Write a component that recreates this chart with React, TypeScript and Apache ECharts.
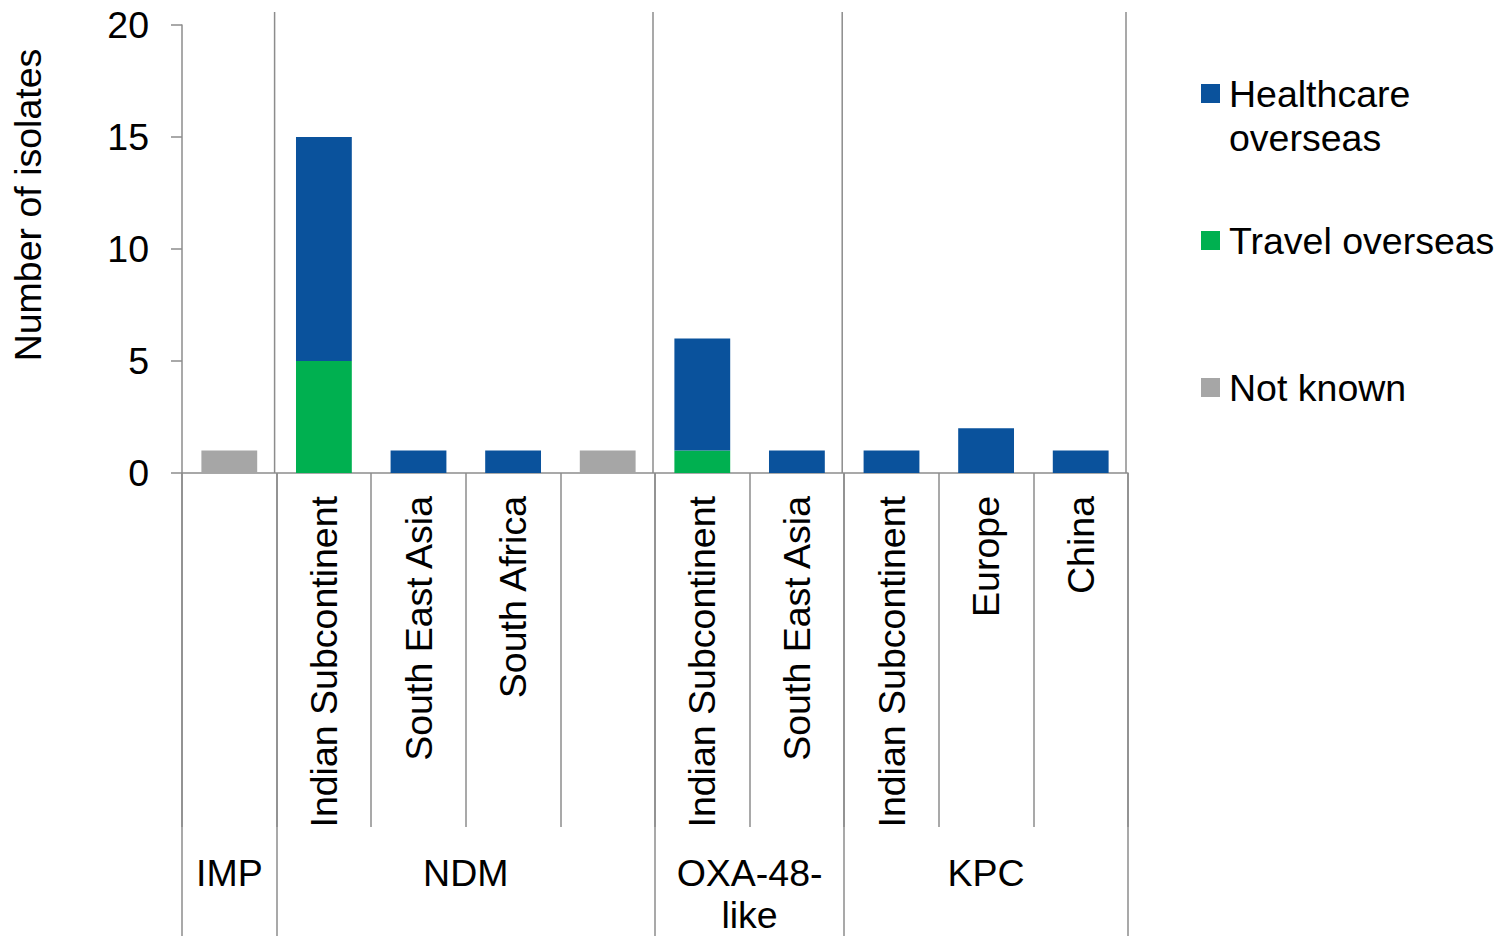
import React, { useEffect, useRef } from "react";
import * as echarts from "echarts";

// Place of acquisition for each bar, grouped by carbapenemase family
const categories = [
  "",
  "Indian Subcontinent",
  "South East Asia",
  "South Africa",
  "",
  "Indian Subcontinent",
  "South East Asia",
  "Indian Subcontinent",
  "Europe",
  "China",
];

// Carbapenemase families and how many bars each spans
const groupNames = ["IMP", "NDM", "OXA-48-\nlike", "KPC"];
const groupSizes = [1, 4, 2, 3];

// Number of isolates per exposure type
const travelOverseas = [null, 5, null, null, null, 1, null, null, null, null];
const healthcareOverseas = [null, 10, 1, 1, null, 5, 1, 1, 2, 1];
const notKnown = [1, null, null, null, 1, null, null, null, null, null];

const yTicks = { min: 0, max: 20, interval: 5 };

const FONT = "'Liberation Sans', Arial, sans-serif";
const FS = 37.5;
const LINE = "#8c8c8c";
const BLUE = "#0a529c";
const GREEN = "#00b050";
const GREY = "#a6a6a6";

// boundaries (as band indices) where a new group starts
const groupStarts: number[] = [];
{
  let acc = 0;
  for (const s of groupSizes) {
    groupStarts.push(acc);
    acc += s;
  }
}

// One legend per entry so each can sit at its own height; a two-line
// entry gets a blank leading line so its first line lines up with the swatch.
function legendFor(name: string, top: number, twoLine: boolean) {
  return {
    data: [name],
    left: 1201,
    top,
    padding: 0,
    itemWidth: 19,
    itemHeight: 19,
    icon: "rect",
    formatter: (n: string) => (twoLine ? "\n" + n.replace(" ", "\n") : n),
    textStyle: {
      fontFamily: FONT,
      fontSize: FS,
      color: "#000",
      lineHeight: 44,
      padding: [0, 0, 0, 4],
    },
  };
}

export default function App() {
  const ref = useRef<HTMLDivElement>(null);

  useEffect(() => {
    if (!ref.current) return;
    const chart = echarts.init(ref.current, null, { renderer: "svg" });

    const option: any = {
      animation: false,
      backgroundColor: "#fff",
      textStyle: { fontFamily: FONT },
      grid: { left: 182, right: 372, top: 25, bottom: 463, containLabel: false },
      legend: [
        legendFor("Healthcare overseas", 27.5, true),
        legendFor("Travel overseas", 218.5, false),
        legendFor("Not known", 365.5, false),
      ],
      xAxis: [
        {
          type: "category",
          data: categories,
          boundaryGap: true,
          axisLine: { show: true, lineStyle: { color: LINE, width: 1.5 } },
          axisTick: { show: true, length: 354, interval: 0, lineStyle: { color: LINE, width: 1.5 } },
          axisLabel: {
            interval: 0,
            rotate: 90,
            margin: 23,
            fontSize: FS,
            fontFamily: FONT,
            color: "#000",
          },
          splitLine: { show: false },
        },
        {
          type: "category",
          data: categories,
          position: "bottom",
          boundaryGap: true,
          axisLine: { show: false },
          axisTick: {
            show: true,
            length: 463,
            interval: (i: number) => groupStarts.includes(i),
            lineStyle: { color: LINE, width: 1.5 },
          },
          axisLabel: { show: false },
          splitLine: { show: false },
        },
      ],
      yAxis: {
        type: "value",
        min: yTicks.min,
        max: yTicks.max,
        interval: yTicks.interval,
        axisLine: { show: true, lineStyle: { color: LINE, width: 1.5 } },
        axisTick: { show: true, length: 11, lineStyle: { color: LINE, width: 1.5 } },
        axisLabel: { margin: 33, fontSize: FS, fontFamily: FONT, color: "#000" },
        splitLine: { show: false },
      },
      series: [
        {
          name: "Travel overseas",
          type: "bar",
          stack: "total",
          barWidth: "59%",
          data: travelOverseas,
          itemStyle: { color: GREEN },
        },
        {
          name: "Healthcare overseas",
          type: "bar",
          stack: "total",
          barWidth: "59%",
          data: healthcareOverseas,
          itemStyle: { color: BLUE },
        },
        {
          name: "Not known",
          type: "bar",
          stack: "total",
          barWidth: "59%",
          data: notKnown,
          itemStyle: { color: GREY },
        },
      ],
    };

    chart.setOption(option);

    // Group separators inside the plot and group names below the axis
    const c0 = chart.convertToPixel({ xAxisIndex: 0 }, 0) as number;
    const c1 = chart.convertToPixel({ xAxisIndex: 0 }, 1) as number;
    const band = c1 - c0;
    const edge = (i: number) => c0 - band / 2 + i * band;
    const baseY = chart.convertToPixel({ yAxisIndex: 0 }, 0) as number;
    const topY = chart.convertToPixel({ yAxisIndex: 0 }, yTicks.max) as number;

    const graphics: any[] = [];
    const boundaries = groupStarts.slice(1).concat([categories.length]);
    boundaries.forEach((b) => {
      const x = edge(b) - 2;
      graphics.push({
        type: "line",
        shape: { x1: x, y1: topY - 13, x2: x, y2: baseY },
        style: { stroke: LINE, lineWidth: 1.5 },
        silent: true,
      });
    });
    groupNames.forEach((name, gi) => {
      const start = groupStarts[gi];
      const mid = (edge(start) + edge(start + groupSizes[gi])) / 2;
      graphics.push({
        type: "text",
        x: mid,
        y: baseY + 379,
        style: {
          text: name,
          fontSize: FS,
          fontFamily: FONT,
          fill: "#000",
          align: "center",
          verticalAlign: "top",
          lineHeight: 42,
        },
        silent: true,
      });
    });
    graphics.push({
      type: "text",
      x: 28,
      y: 205,
      rotation: Math.PI / 2,
      style: {
        text: "Number of isolates",
        fontSize: FS,
        fontFamily: FONT,
        fill: "#000",
        align: "center",
        verticalAlign: "middle",
      },
      silent: true,
    });
    chart.setOption({ graphic: graphics });

    return () => chart.dispose();
  }, []);

  return (
    <div
      ref={ref}
      style={{ position: "fixed", left: 0, top: 0, width: 1500, height: 936 }}
    />
  );
}
